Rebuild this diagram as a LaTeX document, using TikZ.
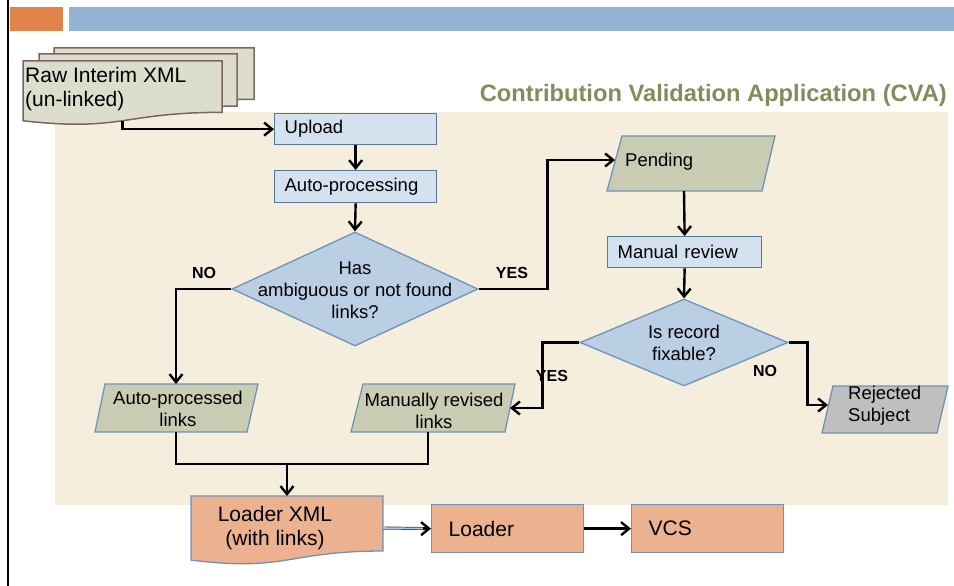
\documentclass[tikz,border=0pt]{standalone}
\usepackage{fontspec}
\setmainfont{Liberation Sans}
\usetikzlibrary{arrows.meta,shapes.geometric,calc}
\definecolor{cream}{HTML}{F5EEDC}
\definecolor{titleol}{HTML}{878B5B}
\definecolor{orangebar}{HTML}{E0834B}
\definecolor{bluebar}{HTML}{93B5D3}
\definecolor{bfill}{HTML}{D4E2EF}
\definecolor{bline}{HTML}{5577A0}
\definecolor{dfill}{HTML}{BACFE4}
\definecolor{dline}{HTML}{6F92B8}
\definecolor{gfill}{HTML}{C8CCB3}
\definecolor{grayfill}{HTML}{BFBFBF}
\definecolor{salmon}{HTML}{ECB18F}
\definecolor{rawfill}{HTML}{DCDDCC}
\definecolor{rawline}{HTML}{806464}
\definecolor{dblfill}{HTML}{A9C4E0}
\newcommand{\drawdoc}[5][]{%
  \draw[#1] (#2,#3) -- ({#2+#4},#3) -- ({#2+#4},{#3+0.802*#5})
    .. controls ({#2+0.5*#4},{#3+0.802*#5}) and ({#2+0.5*#4},{#3+1.108*#5}) ..
    (#2,{#3+0.934*#5}) -- cycle;}
\newcommand{\fsreg}{\fontsize{18.5pt}{22pt}\selectfont}
\newcommand{\fsbig}{\fontsize{21pt}{24pt}\selectfont}
\begin{document}
\begin{tikzpicture}[x=1pt,y=-1pt,
  conn/.style={line width=2.4pt},
  arr/.style={conn,-{Straight Barb[length=8pt,width=13pt]}},
  box/.style={draw=bline,line width=1.3pt,fill=bfill,anchor=north west,
     inner xsep=10pt,inner ysep=0pt,align=left,font=\fsreg},
  obox/.style={box,fill=salmon,draw=dline,inner xsep=17pt,font=\fsbig},
  dia/.style={diamond,draw=dline,line width=1.3pt,fill=dfill,inner sep=0pt},
  pgram/.style={draw=dline,line width=1.3pt,fill=gfill},
  txt/.style={inner sep=0pt,font=\fsreg,align=center},
  lbl/.style={inner sep=0pt,font=\fontsize{16pt}{18pt}\selectfont\bfseries},
  rawdoc/.style={draw=rawline,line width=1.5pt,fill=rawfill}]
\useasboundingbox (0,0) rectangle (954,586);
% frame decorations
\fill[white] (0,0) rectangle (954,586);
\draw[line width=2pt] (8,0) -- (8,586);
\fill[orangebar] (10,7) rectangle (63,31);
\fill[bluebar] (69,7) rectangle (954,31);
\fill[cream] (55,112) rectangle (948,505);
\node[anchor=base east,inner sep=0pt,text=titleol,font=\fontsize{23.7pt}{26pt}\selectfont\bfseries]
  (title) at (947,102) {Contribution Validation Application (CVA)};
% raw interim stack
\drawdoc[rawdoc]{54}{48}{200}{64}
\drawdoc[rawdoc]{39}{54}{198}{65}
\drawdoc[rawdoc]{23}{61}{199}{64}
\node[anchor=west,inner sep=0pt,align=left,font=\fsbig]
  (rawtxt) at (25,88.6) {Raw Interim XML\\(un-linked)};
\coordinate (rawB) at (122.5,120.7);
% boxes
\node[box,text width=142pt,minimum height=31pt] (upload) at (274,113) {Upload};
\node[box,text width=142pt,minimum height=32pt] (auto) at (274,170) {Auto-processing};
\node[box,text width=134pt,minimum height=31pt] (mr) at (607,236) {Manual review};
\node[obox,text width=118pt,minimum height=48pt] (loader) at (431,504) {Loader};
\node[obox,text width=118pt,minimum height=48pt] (vcs) at (631,504) {VCS};
% diamonds
\node[dia,minimum width=246pt,minimum height=114pt] (d1) at (355,289) {};
\node[txt] (d1t) at (355,290) {Has\\ambiguous or not found\\links?};
\node[dia,minimum width=208pt,minimum height=87pt] (d2) at (684,342.5) {};
\node[txt] (d2t) at (684,343) {Is record\\fixable?};
% parallelograms
\draw[pgram] (622,136) -- (775,136) -- (762,191) -- (607,191) -- cycle;
\node[txt,anchor=west] (pendt) at (625,162) {Pending};
\coordinate (pendW) at (615,160);
\coordinate (pendS) at (684,191);
\draw[pgram] (105,384) -- (258,384) -- (247,432) -- (95,432) -- cycle;
\node[txt] (apt) at (178,409) {Auto-processed\\links};
\coordinate (apN) at (176,384);
\coordinate (apS) at (176,432);
\draw[pgram] (363,384) -- (515,384) -- (505,432) -- (351,432) -- cycle;
\node[txt] (mrvt) at (434,411) {Manually revised\\links};
\coordinate (mrvE) at (510,408);
\coordinate (mrvS) at (428,432);
\draw[pgram,fill=grayfill] (833,386) -- (948,386) -- (937,433) -- (822,433) -- cycle;
\node[txt,anchor=west,align=left] (rejt) at (848,406) {Rejected\\Subject};
\coordinate (rejW) at (828,405);
% loader xml document
\drawdoc[draw=dline,line width=1.3pt,fill=salmon]{191}{496}{192}{68.6}
\node[txt,font=\fsbig] (lxt) at (275,528) {Loader XML\\(with links)};
\coordinate (lxN) at (287,496);
\coordinate (lxE) at (383,528);
\coordinate (merge) at (287,464);
% connectors
\draw[arr] (rawB) |- (upload.west);
\draw[arr] (upload.south) -- (auto.north);
\draw[arr] (auto.south) -- (d1.north);
\draw[arr] (d1.west) -| (apN);
\draw[arr] (d1.east) -- ++(69,0) |- (pendW);
\draw[arr] (pendS) -- (mr.north);
\draw[arr] (mr.south) -- (d2.north);
\draw[arr] (d2.west) -- ++(-37,0) |- (mrvE);
\draw[arr] (d2.east) -- ++(19,0) |- (rejW);
\draw[conn] (apS) -- ++(0,32) -| (mrvS);
\draw[arr] (merge) -- (lxN);
\draw[line width=0.7pt,draw=black!75,double=dblfill,double distance=1.6pt,shorten >=7pt] (lxE) -- (loader.west);
\draw[arr] ([xshift=-8pt]loader.west) -- (loader.west);
\draw[arr] (loader.east) -- (vcs.west);
% labels
\node[lbl] (no1) at (204,273) {NO};
\node[lbl] (yes1) at (512,273) {YES};
\node[lbl] (yes2) at (552,376) {YES};
\node[lbl] (no2) at (765,371) {NO};
\end{tikzpicture}
\end{document}
